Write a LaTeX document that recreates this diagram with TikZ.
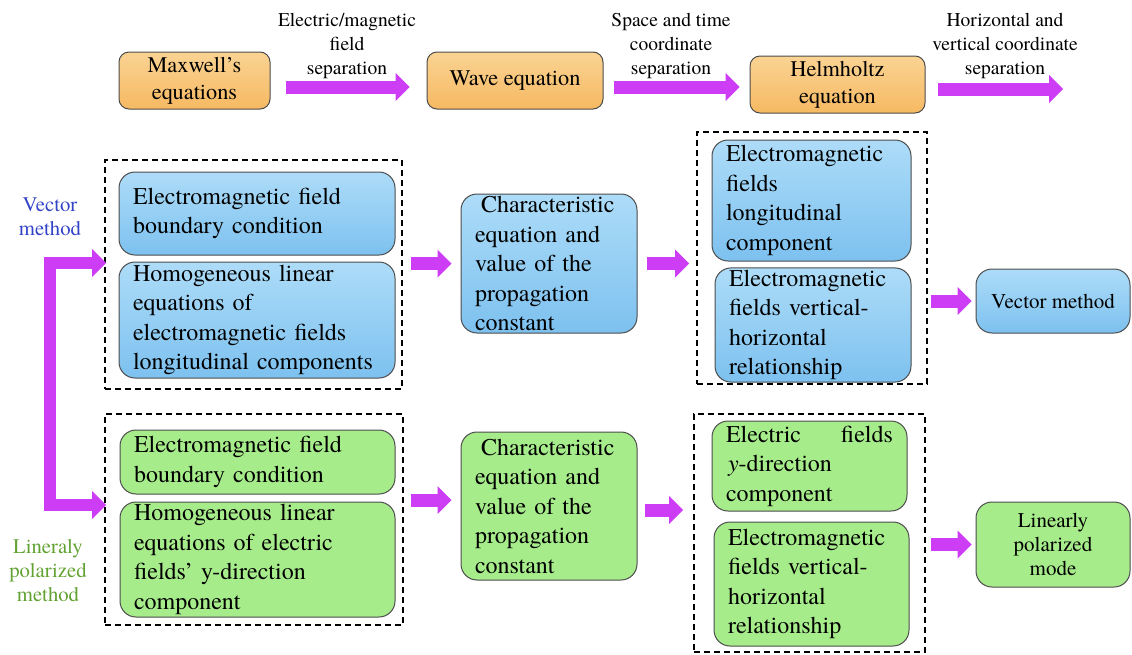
\documentclass[tikz,border=0pt]{standalone}
\usepackage{fontspec}
\setmainfont{texgyretermes-regular.otf}[BoldFont=texgyretermes-bold.otf, ItalicFont=texgyretermes-italic.otf, BoldItalicFont=texgyretermes-bolditalic.otf]
\usetikzlibrary{arrows.meta}
\definecolor{orgtop}{HTML}{FAD393}
\definecolor{orgbot}{HTML}{F6B962}
\definecolor{blutop}{HTML}{ADDCF8}
\definecolor{blubot}{HTML}{7DC1EF}
\definecolor{grnfill}{HTML}{A7EC8B}
\definecolor{arrowmag}{HTML}{CC3DF5}
\definecolor{vecblue}{HTML}{3343C8}
\definecolor{lpgreen}{HTML}{62A232}
\tikzset{
    blockhead/.tip={Triangle[length=14pt, width=28pt, line width=0pt]}, % head of the thick arrows
    flow/.style={draw=arrowmag, line width=13pt, -blockhead}, % thick magenta arrow
    boxbase/.style={draw=black!70, line width=1pt, inner xsep=14pt, inner ysep=2pt, align=left},
    orangebox/.style={boxbase, rounded corners=10pt, top color=orgtop, bottom color=orgbot, align=center, font=\fontsize{22.3}{27}\selectfont},
    bluebox/.style={boxbase, rounded corners=16pt, top color=blutop, bottom color=blubot, font=\fontsize{24}{29.5}\selectfont},
    greenbox/.style={boxbase, rounded corners=16pt, fill=grnfill, font=\fontsize{24}{29.5}\selectfont},
    groupbox/.style={draw, line width=1.6pt, dash pattern=on 6pt off 4pt},
    steplabel/.style={align=center, font=\fontsize{19.5}{24}\selectfont},
    sidelabel/.style={align=center, font=\fontsize{20.7}{24}\selectfont}
}
\begin{document}
\begin{tikzpicture}[x=1pt, y=-1pt]
    \useasboundingbox (0,0) rectangle (1132,654);

    % top row
    \node[orangebox, minimum width=151pt, minimum height=57pt] (maxw) at (194.5,80.5) {Maxwell's\\equations};
    \node[orangebox, minimum width=176pt, minimum height=57pt] (waveq) at (515,80.5) {Wave equation};
    \node[orangebox, minimum width=175pt, minimum height=57pt] (helm) at (837.5,84.5) {Helmholtz\\equation};
    \coordinate (sepend) at (1063,89);

    \node[steplabel] (lblfield) at (347,46) {Electric/magnetic\\field\\separation};
    \node[steplabel] (lblspace) at (671,46) {Space and time\\coordinate\\separation};
    \node[steplabel] (lblcoord) at (1005,46) {Horizontal and\\vertical coordinate\\separation};

    \draw[flow, shorten <=15pt, shorten >=17pt] ([yshift=-6.5pt]maxw.east) -- ([yshift=-6.5pt]waveq.west);
    \draw[flow, shorten <=10pt, shorten >=10pt] ([yshift=-6.5pt]waveq.east) -- ([yshift=-2.5pt]helm.west);
    \draw[flow, shorten <=12pt] ([yshift=-4.5pt]helm.east) -- (sepend);

    % vector method row
    \node[groupbox, minimum width=297pt, minimum height=229pt] (grpa) at (253.5,274.5) {};
    \node[bluebox, minimum width=276pt, minimum height=83pt, text width=248pt] (emfa) at (257,213.5) {Electromagnetic field\\boundary condition};
    \node[bluebox, minimum width=276pt, minimum height=116pt, text width=248pt] (homa) at (257,320) {Homogeneous linear\\equations of\\electromagnetic fields\\longitudinal components};
    \node[bluebox, minimum width=176pt, minimum height=139pt, text width=148pt, inner xsep=14pt] (chara) at (549,263.5) {\hspace*{6pt}Characteristic\\equation and\\value of the\\propagation\\constant};
    \node[groupbox, minimum width=230pt, minimum height=252pt] (grpb) at (812,258) {};
    \node[bluebox, minimum width=199pt, minimum height=121pt, text width=171pt] (emlong) at (811.5,200.5) {Electromagnetic\\fields\\longitudinal\\component};
    \node[bluebox, minimum width=196pt, minimum height=114pt, text width=168pt] (emrela) at (813,325) {Electromagnetic\\fields vertical-\\horizontal\\relationship};
    \node[bluebox, minimum width=154pt, minimum height=64pt, align=center, font=\fontsize{21}{24}\selectfont] (vmeth) at (1053,301) {Vector method};

    \draw[flow, shorten <=8pt, shorten >=9pt] (grpa.east |- chara.west) -- (chara.west);
    \draw[flow, shorten <=9pt, shorten >=7pt] (chara.east) -- (grpb.west |- chara.east);
    \draw[flow, shorten <=3pt, shorten >=4pt] (grpb.east |- vmeth.west) -- (vmeth.west);

    % linearly polarized row
    \node[groupbox, minimum width=298pt, minimum height=211pt] (grpc) at (254,519.5) {};
    \node[greenbox, minimum width=275pt, minimum height=64pt, text width=247pt] (emfb) at (257.5,462) {Electromagnetic field\\boundary condition};
    \node[greenbox, minimum width=275pt, minimum height=115pt, text width=247pt] (homb) at (257.5,559.5) {Homogeneous linear\\equations of electric\\fields’ y-direction\\component};
    \node[greenbox, minimum width=176pt, minimum height=148pt, text width=148pt] (charb) at (549,506) {\hspace*{6pt}Characteristic\\equation and\\value of the\\propagation\\constant};
    \node[groupbox, minimum width=231pt, minimum height=238pt] (grpd) at (809.5,533) {};
    \node[greenbox, minimum width=195pt, minimum height=90pt, text width=167pt] (eyc) at (809.5,466) {Electric\hfill fields\\\hspace*{2pt}\textit{y}-direction\\component};
    \node[greenbox, minimum width=195pt, minimum height=124pt, text width=167pt] (emrelb) at (811.5,584) {Electromagnetic\\fields vertical-\\horizontal\\relationship};
    \node[greenbox, minimum width=154pt, minimum height=85pt, align=center, font=\fontsize{21}{24}\selectfont] (lpmode) at (1053,544.5) {Linearly\\polarized\\mode};

    \draw[flow, shorten <=7pt, shorten >=9pt] ([yshift=19.5pt]grpc.east) -- ([yshift=6pt]charb.west);
    \draw[flow, shorten <=7pt, shorten >=10pt] ([yshift=-4pt]charb.east) -- ([yshift=23pt]grpd.west);
    \draw[flow, shorten <=5pt, shorten >=4pt] (grpd.east |- lpmode.west) -- (lpmode.west);

    % method labels and the fork on the left
    \node[sidelabel, text=vecblue] (vlabel) at (50,217) {Vector\\method};
    \node[sidelabel, text=lpgreen] (llabel) at (48,571) {Lineraly\\polarized\\method};
    \coordinate (forkup) at (50,263);
    \coordinate (forklow) at (50,505);
    \draw[flow, line width=12pt, line join=miter, blockhead-blockhead, shorten <=-2pt, shorten >=-2pt]
        (grpa.west |- forkup) -- (forkup) -- (forklow) -- (grpc.west |- forklow);
\end{tikzpicture}
\end{document}
